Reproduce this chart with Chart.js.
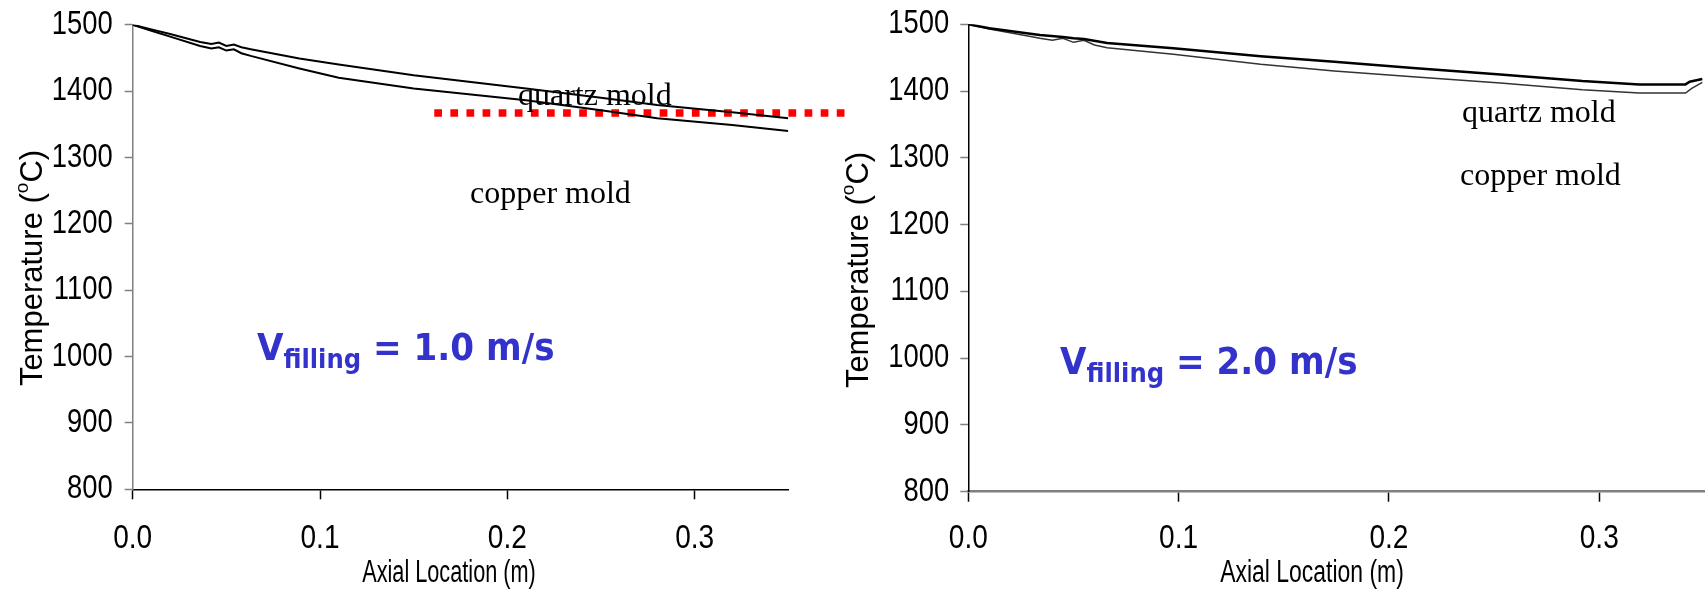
<!DOCTYPE html>
<html>
<head>
<meta charset="utf-8">
<script src="https://cdn.jsdelivr.net/npm/chart.js"></script>
<style>
body{margin:0;width:1705px;height:595px;overflow:hidden;background:#fff;position:relative;}
canvas{position:absolute;top:0;}
#left{left:0;}
#right{left:820px;}
.note{position:absolute;font-family:"Liberation Serif","Times New Roman",serif;font-size:32px;line-height:30px;color:#000;white-space:nowrap;}
.vel{position:absolute;font-family:"DejaVu Sans Condensed","DejaVu Sans",sans-serif;font-weight:bold;font-size:38px;line-height:40px;color:#3333cc;white-space:nowrap;}
.vel sub{font-size:27px;vertical-align:-8px;line-height:0;}
</style>
</head>
<body>
<canvas id="left" width="852" height="595"></canvas>
<canvas id="right" width="885" height="595"></canvas>
<div class="note" style="left:518px;top:79px;">quartz mold</div>
<div class="note" style="left:470px;top:177px;">copper mold</div>
<div class="note" style="left:1462px;top:96px;">quartz mold</div>
<div class="note" style="left:1460px;top:159px;">copper mold</div>
<div class="vel" style="left:257px;top:327px;">V<sub>filling</sub> = 1.0 m/s</div>
<div class="vel" style="left:1060px;top:341px;">V<sub>filling</sub> = 2.0 m/s</div>
<script>
// tick labels
var xTicks = [0, 0.1, 0.2, 0.3];
var yTicks = [800, 900, 1000, 1100, 1200, 1300, 1400, 1500];

// V = 1.0 m/s
var leftX = [0, 0.01, 0.02, 0.036, 0.042, 0.046, 0.05, 0.054, 0.058, 0.063, 0.089, 0.11, 0.15, 0.21, 0.25, 0.28, 0.32, 0.35];
var leftQuartz = [1500, 1493, 1486, 1474, 1471, 1473, 1468, 1470, 1466, 1463, 1449, 1440, 1424, 1404, 1390, 1379, 1368, 1359];
var leftCopper = [1500, 1491, 1482, 1468, 1464, 1466, 1461, 1463, 1457, 1453, 1434, 1420, 1404, 1386, 1371, 1359, 1349, 1340];
var redX = [0.161, 0.38];
var redY = [1367, 1367];

// V = 2.0 m/s
var rightQX = [0, 0.01, 0.034, 0.045, 0.05, 0.055, 0.066, 0.0975, 0.139, 0.174, 0.213, 0.253, 0.292, 0.319, 0.341, 0.343, 0.349];
var rightQuartz = [1500, 1494, 1484, 1481, 1479, 1478, 1472, 1464, 1452, 1444, 1434, 1425, 1415, 1410, 1410, 1414, 1418];
var rightCX = [0, 0.01, 0.029, 0.034, 0.04, 0.045, 0.05, 0.055, 0.06, 0.066, 0.0975, 0.139, 0.174, 0.213, 0.253, 0.292, 0.319, 0.341, 0.344, 0.349];
var rightCopper = [1500, 1493, 1482, 1479, 1476, 1479, 1473, 1476, 1469, 1465, 1455, 1440, 1430, 1421, 1412, 1402, 1397, 1397, 1404, 1413];

function pts(xs, ys) {
	var out = [];
	for (var i in xs) {
		out.push({x: xs[i], y: ys[i]});
	}
	return out;
}

// squeezed text, the original uses a narrow face
function squeezed(ctx, txt, x, y, sx) {
	ctx.save();
	ctx.translate(x, y);
	ctx.scale(sx, 1);
	ctx.fillText(txt, 0, 0);
	ctx.restore();
}

var axisText = {
	id: 'axisText',
	afterDraw: function(chart, args, o) {
		var ctx = chart.ctx;
		var xs = chart.scales.x, ys = chart.scales.y, area = chart.chartArea;
		ctx.save();
		ctx.fillStyle = '#000';
		ctx.font = '33px "Liberation Sans", Arial, sans-serif';
		ctx.textBaseline = 'middle';
		ctx.textAlign = 'right';
		yTicks.forEach(function(v) {
			squeezed(ctx, String(v), area.left - o.yGap, ys.getPixelForValue(v), 0.83);
		});
		ctx.textAlign = 'center';
		xTicks.forEach(function(v) {
			squeezed(ctx, v.toFixed(1), xs.getPixelForValue(v), o.xLabelY, 0.85);
		});
		ctx.font = '31px "Liberation Sans", Arial, sans-serif';
		squeezed(ctx, 'Axial Location (m)', o.xTitleX, o.xTitleY, o.titleSqueeze);

		// y title, rotated, with raised "o"
		ctx.translate(o.yTitleX, o.yTitleY);
		ctx.rotate(-Math.PI / 2);
		ctx.textAlign = 'left';
		var big = '31px "Liberation Sans", Arial, sans-serif';
		var small = '19px "Liberation Sans", Arial, sans-serif';
		ctx.font = big;
		var w1 = ctx.measureText('Temperature (').width;
		var w3 = ctx.measureText('C)').width;
		ctx.font = small;
		var w2 = ctx.measureText('o').width;
		var sx = -(w1 + w2 + w3) / 2;
		ctx.font = big;
		ctx.fillText('Temperature (', sx, 0);
		ctx.font = small;
		ctx.fillText('o', sx + w1, -10);
		ctx.font = big;
		ctx.fillText('C)', sx + w1 + w2, 0);
		ctx.restore();
	}
};

function makeOptions(cfg) {
	return {
		responsive: false,
		animation: false,
		layout: {padding: cfg.padding},
		plugins: {legend: {display: false}, tooltip: {enabled: false}, axisText: cfg.text},
		elements: {point: {radius: 0}, line: {tension: 0}},
		scales: {
			x: {
				type: 'linear',
				min: 0,
				max: 0.35,
				afterBuildTicks: function(scale) {
					scale.ticks = xTicks.map(function(v) { return {value: v}; });
				},
				afterFit: function(scale) { scale.height = cfg.xHeight; },
				ticks: {display: false},
				grid: {drawOnChartArea: false, drawTicks: true, tickLength: 10, tickColor: '#000', tickWidth: 1.5},
				border: {display: true, color: cfg.xBorder, width: cfg.xBorderWidth},
				title: {display: false}
			},
			y: {
				type: 'linear',
				min: 800,
				max: 1500,
				afterBuildTicks: function(scale) {
					scale.ticks = yTicks.map(function(v) { return {value: v}; });
				},
				afterFit: function(scale) { scale.width = cfg.yWidth; },
				ticks: {display: false},
				grid: {drawOnChartArea: false, drawTicks: true, tickLength: 8, tickColor: '#808080', tickWidth: 1.5},
				border: {display: true, color: cfg.yBorder, width: 1.5},
				title: {display: false}
			}
		}
	};
}

new Chart(document.getElementById('left'), {
	type: 'line',
	data: {
		datasets: [
			{label: 'quartz mold', data: pts(leftX, leftQuartz), borderColor: '#000', borderWidth: 2, fill: false},
			{label: 'copper mold', data: pts(leftX, leftCopper), borderColor: '#000', borderWidth: 2, fill: false},
			{label: 'marker', data: pts(redX, redY), borderColor: '#ff0000', borderWidth: 7.5, borderDash: [7.7, 8.4], fill: false, clip: false}
		]
	},
	options: makeOptions({
		padding: {left: 0, right: 63.7, top: 24.7, bottom: 0},
		xHeight: 105.7, yWidth: 132.7,
		xBorder: '#000', xBorderWidth: 1.5, yBorder: '#808080',
		text: {yGap: 20, xLabelY: 539, xTitleX: 449, xTitleY: 573, titleSqueeze: 0.7, yTitleX: 33, yTitleY: 268}
	}),
	plugins: [axisText]
});

new Chart(document.getElementById('right'), {
	type: 'line',
	data: {
		datasets: [
			{label: 'quartz mold', data: pts(rightQX, rightQuartz), borderColor: '#000', borderWidth: 2.5, fill: false},
			{label: 'copper mold', data: pts(rightCX, rightCopper), borderColor: '#333', borderWidth: 1.5, fill: false}
		]
	},
	options: makeOptions({
		padding: {left: 0, right: 0.6, top: 24.3, bottom: 0},
		xHeight: 103.3, yWidth: 148.3,
		xBorder: '#808080', xBorderWidth: 2.5, yBorder: '#000',
		text: {yGap: 19, xLabelY: 539, xTitleX: 1312 - 820, xTitleY: 573, titleSqueeze: 0.74, yTitleX: 39, yTitleY: 270}
	}),
	plugins: [axisText]
});
</script>
</body>
</html>
